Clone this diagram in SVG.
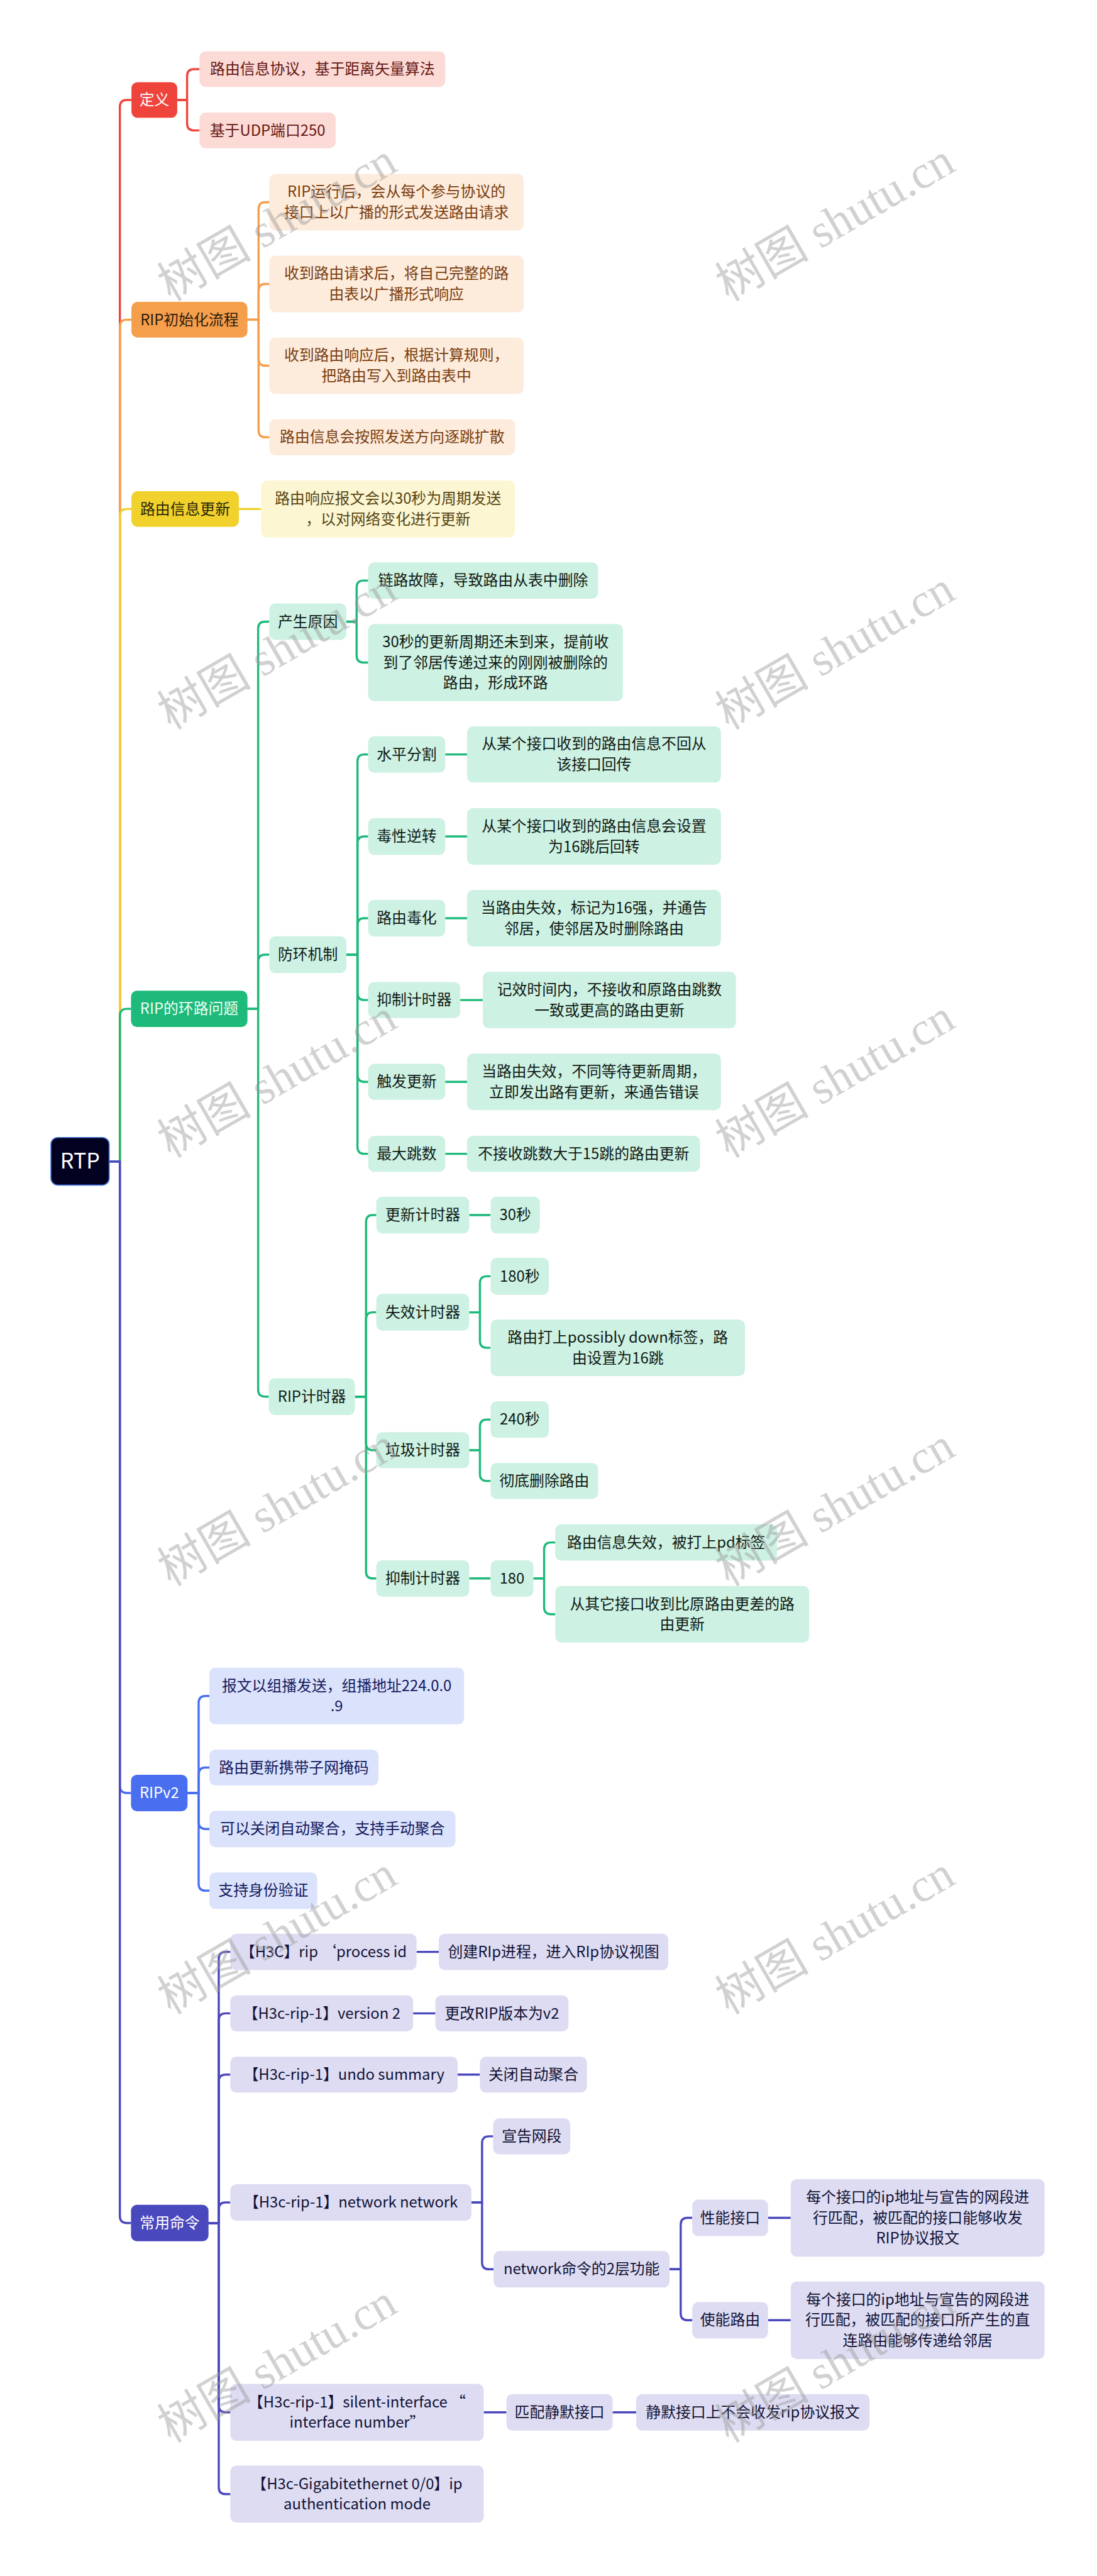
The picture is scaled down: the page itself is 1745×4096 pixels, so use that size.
<svg xmlns="http://www.w3.org/2000/svg" width="1745" height="4096" viewBox="0 0 1745 4096">
<style>
text{font-family:"Noto Sans CJK SC","Noto Sans",sans-serif;font-size:35px;text-anchor:middle}
.c{fill:none;stroke-width:5;stroke-linejoin:round}
.cr{stroke:#EF443C}.co{stroke:#F59E4C}.cy{stroke:#F1D12B}.cg{stroke:#1EBA7B}.cb{stroke:#4A6EF0}.ci{stroke:#4A48BD}
.b1r rect{fill:#EF443C}.b1r text{fill:#fff}
.b2r rect{fill:#FCDAD6}.b2r text{fill:#651812}
.b1o rect{fill:#F59E4C}.b1o text{fill:#2e1d0c}
.b2o rect{fill:#FDEBDC}.b2o text{fill:#7a3e0e}
.b1y rect{fill:#F1D12B}.b1y text{fill:#2c2608}
.b2y rect{fill:#FCF6D2}.b2y text{fill:#574512}
.b1g rect{fill:#1EBA7B}.b1g text{fill:#effff6}
.b2g rect{fill:#CDF1E2}.b2g text{fill:#101a15}
.b1b rect{fill:#4A6EF0}.b1b text{fill:#fff}
.b2b rect{fill:#DBE2FB}.b2b text{fill:#141b5e}
.b1i rect{fill:#4A48BD}.b1i text{fill:#fff}
.b2i rect{fill:#DDDCF2}.b2i text{fill:#121236}
.wm text{font-family:"Liberation Serif","Noto Sans CJK SC",serif;font-size:110px;fill:#9a9a9a;fill-opacity:0.45}
</style>
<rect width="1745" height="4096" fill="#fff"/>
<g transform="scale(0.681)">
<g id="connectors">
<path class="c cr" d="M255 2712H280V249.5Q280 233.5 296 233.5H307"/>
<path class="c cr" d="M414 233.5H437V177.5Q437 161.5 453 161.5H466"/>
<path class="c cr" d="M414 233.5H437V288.5Q437 304.5 453 304.5H466"/>
<path class="c co" d="M255 2712H280V762.5Q280 746.5 296 746.5H307"/>
<path class="c co" d="M578 746.5H604V488Q604 472 620 472H629"/>
<path class="c co" d="M578 746.5H604V679Q604 663 620 663H629"/>
<path class="c co" d="M578 746.5H604V838Q604 854 620 854H629"/>
<path class="c co" d="M578 746.5H604V1005Q604 1021 620 1021H629"/>
<path class="c cy" d="M255 2712H280V1204.5Q280 1188.5 296 1188.5H307"/>
<path class="c cy" d="M558 1188.5H610"/>
<path class="c cg" d="M255 2712H280V2371.5Q280 2355.5 296 2355.5H306"/>
<path class="c cg" d="M578 2355.5H603V1467.5Q603 1451.5 619 1451.5H629"/>
<path class="c cg" d="M578 2355.5H603V2245Q603 2229 619 2229H629"/>
<path class="c cg" d="M578 2355.5H603V3245Q603 3261 619 3261H628"/>
<path class="c cg" d="M809 1451.5H833V1371.5Q833 1355.5 849 1355.5H860"/>
<path class="c cg" d="M809 1451.5H833V1531Q833 1547 849 1547H860"/>
<path class="c cg" d="M809 2229H835V1777.5Q835 1761.5 851 1761.5H860"/>
<path class="c cg" d="M809 2229H835V1969Q835 1953 851 1953H860"/>
<path class="c cg" d="M809 2229H835V2160Q835 2144 851 2144H860"/>
<path class="c cg" d="M809 2229H835V2319Q835 2335 851 2335H860"/>
<path class="c cg" d="M809 2229H835V2510Q835 2526 851 2526H860"/>
<path class="c cg" d="M809 2229H835V2678Q835 2694 851 2694H860"/>
<path class="c cg" d="M1040 1761.5H1091M1040 1953H1091M1040 2144H1091M1075 2335H1128M1040 2526H1091M1040 2694H1091"/>
<path class="c cg" d="M829 3261H855V2853Q855 2837 871 2837H879"/>
<path class="c cg" d="M829 3261H855V3080Q855 3064 871 3064H879"/>
<path class="c cg" d="M829 3261H855V3370Q855 3386 871 3386H879"/>
<path class="c cg" d="M829 3261H855V3669.5Q855 3685.5 871 3685.5H879"/>
<path class="c cg" d="M1096 2837H1146M1096 3685.5H1146"/>
<path class="c cg" d="M1096 3064H1121V2996Q1121 2980 1137 2980H1146"/>
<path class="c cg" d="M1096 3064H1121V3131Q1121 3147 1137 3147H1146"/>
<path class="c cg" d="M1096 3386H1121V3330.5Q1121 3314.5 1137 3314.5H1146"/>
<path class="c cg" d="M1096 3386H1121V3442Q1121 3458 1137 3458H1146"/>
<path class="c cg" d="M1246 3685.5H1271V3617.5Q1271 3601.5 1287 3601.5H1297"/>
<path class="c cg" d="M1246 3685.5H1271V3753Q1271 3769 1287 3769H1297"/>
<path class="c cb" d="M255 2712H280V4170.5Q280 4186.5 296 4186.5H306"/>
<path class="c cb" d="M438 4186.5H464V3976Q464 3960 480 3960H489"/>
<path class="c cb" d="M438 4186.5H464V4143Q464 4127 480 4127H489"/>
<path class="c cb" d="M438 4186.5H464V4254.5Q464 4270.5 480 4270.5H489"/>
<path class="c cb" d="M438 4186.5H464V4398.5Q464 4414.5 480 4414.5H489"/>
<path class="c ci" d="M255 2712H280V5174.5Q280 5190.5 296 5190.5H306"/>
<path class="c ci" d="M487 5190.5H511V4573.5Q511 4557.5 527 4557.5H538"/>
<path class="c ci" d="M487 5190.5H511V4717Q511 4701 527 4701H538"/>
<path class="c ci" d="M487 5190.5H511V4860Q511 4844 527 4844H538"/>
<path class="c ci" d="M487 5190.5H511V5158.5Q511 5142.5 527 5142.5H538"/>
<path class="c ci" d="M487 5190.5H511V5616.5Q511 5632.5 527 5632.5H538"/>
<path class="c ci" d="M487 5190.5H511V5807.5Q511 5823.5 527 5823.5H538"/>
<path class="c ci" d="M973 4557.5H1025M965 4701H1017M1069 4844H1121"/>
<path class="c ci" d="M1101 5142.5H1126V5004Q1126 4988 1142 4988H1152"/>
<path class="c ci" d="M1101 5142.5H1126V5282.5Q1126 5298.5 1142 5298.5H1153"/>
<path class="c ci" d="M1564 5298.5H1590V5194.5Q1590 5178.5 1606 5178.5H1617"/>
<path class="c ci" d="M1564 5298.5H1590V5401.5Q1590 5417.5 1606 5417.5H1617"/>
<path class="c ci" d="M1794 5178.5H1847M1794 5417.5H1847M1130 5632.5H1183M1431 5632.5H1486"/>
</g>

<g id="root"><rect x="119" y="2656" width="136" height="111" rx="16" fill="#020220" stroke="#3e70d8" stroke-width="2.5"/><text x="187" y="2729" style="font-size:50px;fill:#fff">RTP</text></g>

<g id="n-def" class="b1r"><rect x="307" y="192" width="107" height="83" rx="14"/><text x="360.5" y="245.5">定义</text></g>
<g id="n-def-1" class="b2r"><rect x="466" y="120" width="574" height="83" rx="14"/><text x="753" y="173.5">路由信息协议，基于距离矢量算法</text></g>
<g id="n-def-2" class="b2r"><rect x="466" y="263" width="318" height="83" rx="14"/><text x="625" y="316.5">基于UDP端口250</text></g>

<g id="n-init" class="b1o"><rect x="307" y="705" width="271" height="83" rx="14"/><text x="442.5" y="758.5">RIP初始化流程</text></g>
<g id="n-init-1" class="b2o"><rect x="629" y="406" width="594" height="132" rx="14"/><text x="926" y="460">RIP运行后，会从每个参与协议的</text><text x="926" y="508">接口上以广播的形式发送路由请求</text></g>
<g id="n-init-2" class="b2o"><rect x="629" y="597" width="594" height="132" rx="14"/><text x="926" y="651">收到路由请求后，将自己完整的路</text><text x="926" y="699">由表以广播形式响应</text></g>
<g id="n-init-3" class="b2o"><rect x="629" y="788" width="594" height="132" rx="14"/><text x="926" y="842">收到路由响应后，根据计算规则，</text><text x="926" y="890">把路由写入到路由表中</text></g>
<g id="n-init-4" class="b2o"><rect x="629" y="979" width="574" height="84" rx="14"/><text x="916" y="1033">路由信息会按照发送方向逐跳扩散</text></g>

<g id="n-upd" class="b1y"><rect x="307" y="1147" width="251" height="83" rx="14"/><text x="432.5" y="1200.5">路由信息更新</text></g>
<g id="n-upd-1" class="b2y"><rect x="610" y="1122" width="593" height="133" rx="14"/><text x="906.5" y="1176.5">路由响应报文会以30秒为周期发送</text><text x="906.5" y="1224.5">，以对网络变化进行更新</text></g>

<g id="n-loop" class="b1g"><rect x="306" y="2313" width="272" height="85" rx="14"/><text x="442" y="2367.5">RIP的环路问题</text></g>
<g id="n-cause" class="b2g"><rect x="629" y="1409" width="180" height="85" rx="14"/><text x="719" y="1463.5">产生原因</text></g>
<g id="n-cause-1" class="b2g"><rect x="860" y="1313" width="537" height="85" rx="14"/><text x="1128.5" y="1367.5">链路故障，导致路由从表中删除</text></g>
<g id="n-cause-2" class="b2g"><rect x="860" y="1457" width="595" height="180" rx="14"/><text x="1157.5" y="1511">30秒的更新周期还未到来，提前收</text><text x="1157.5" y="1559">到了邻居传递过来的刚刚被删除的</text><text x="1157.5" y="1607">路由，形成环路</text></g>
<g id="n-prev" class="b2g"><rect x="629" y="2186" width="180" height="86" rx="14"/><text x="719" y="2241">防环机制</text></g>
<g id="n-split" class="b2g"><rect x="860" y="1719" width="180" height="85" rx="14"/><text x="950" y="1773.5">水平分割</text></g>
<g id="n-split-d" class="b2g"><rect x="1091" y="1696" width="593" height="131" rx="14"/><text x="1387.5" y="1749.5">从某个接口收到的路由信息不回从</text><text x="1387.5" y="1797.5">该接口回传</text></g>
<g id="n-poison" class="b2g"><rect x="860" y="1910" width="180" height="86" rx="14"/><text x="950" y="1965">毒性逆转</text></g>
<g id="n-poison-d" class="b2g"><rect x="1091" y="1887" width="593" height="132" rx="14"/><text x="1387.5" y="1941">从某个接口收到的路由信息会设置</text><text x="1387.5" y="1989">为16跳后回转</text></g>
<g id="n-rpoison" class="b2g"><rect x="860" y="2101" width="180" height="86" rx="14"/><text x="950" y="2156">路由毒化</text></g>
<g id="n-rpoison-d" class="b2g"><rect x="1091" y="2078" width="593" height="132" rx="14"/><text x="1387.5" y="2132">当路由失效，标记为16强，并通告</text><text x="1387.5" y="2180">邻居，使邻居及时删除路由</text></g>
<g id="n-hold" class="b2g"><rect x="860" y="2293" width="215" height="84" rx="14"/><text x="967.5" y="2347">抑制计时器</text></g>
<g id="n-hold-d" class="b2g"><rect x="1128" y="2269" width="591" height="132" rx="14"/><text x="1423.5" y="2323">记效时间内，不接收和原路由跳数</text><text x="1423.5" y="2371">一致或更高的路由更新</text></g>
<g id="n-trig" class="b2g"><rect x="860" y="2484" width="180" height="84" rx="14"/><text x="950" y="2538">触发更新</text></g>
<g id="n-trig-d" class="b2g"><rect x="1091" y="2460" width="593" height="132" rx="14"/><text x="1387.5" y="2514">当路由失效，不同等待更新周期，</text><text x="1387.5" y="2562">立即发出路有更新，来通告错误</text></g>
<g id="n-max" class="b2g"><rect x="860" y="2652" width="180" height="84" rx="14"/><text x="950" y="2706">最大跳数</text></g>
<g id="n-max-d" class="b2g"><rect x="1091" y="2652" width="544" height="84" rx="14"/><text x="1363" y="2706">不接收跳数大于15跳的路由更新</text></g>
<g id="n-timers" class="b2g"><rect x="628" y="3218" width="201" height="86" rx="14"/><text x="728.5" y="3273">RIP计时器</text></g>
<g id="n-t-upd" class="b2g"><rect x="879" y="2794" width="217" height="86" rx="14"/><text x="987.5" y="2849">更新计时器</text></g>
<g id="n-t-upd-v" class="b2g"><rect x="1146" y="2794" width="115" height="86" rx="14"/><text x="1203.5" y="2849">30秒</text></g>
<g id="n-t-inv" class="b2g"><rect x="879" y="3021" width="217" height="86" rx="14"/><text x="987.5" y="3076">失效计时器</text></g>
<g id="n-t-inv-v" class="b2g"><rect x="1146" y="2937" width="136" height="86" rx="14"/><text x="1214" y="2992">180秒</text></g>
<g id="n-t-inv-d" class="b2g"><rect x="1146" y="3081" width="594" height="132" rx="14"/><text x="1443" y="3135">路由打上possibly down标签，路</text><text x="1443" y="3183">由设置为16跳</text></g>
<g id="n-t-gc" class="b2g"><rect x="879" y="3344" width="217" height="84" rx="14"/><text x="987.5" y="3398">垃圾计时器</text></g>
<g id="n-t-gc-v" class="b2g"><rect x="1146" y="3272" width="136" height="85" rx="14"/><text x="1214" y="3326.5">240秒</text></g>
<g id="n-t-gc-d" class="b2g"><rect x="1146" y="3416" width="251" height="84" rx="14"/><text x="1271.5" y="3470">彻底删除路由</text></g>
<g id="n-t-hold" class="b2g"><rect x="879" y="3643" width="217" height="85" rx="14"/><text x="987.5" y="3697.5">抑制计时器</text></g>
<g id="n-t-hold-v" class="b2g"><rect x="1146" y="3643" width="100" height="85" rx="14"/><text x="1196" y="3697.5">180</text></g>
<g id="n-t-hold-d1" class="b2g"><rect x="1297" y="3559" width="518" height="85" rx="14"/><text x="1556" y="3613.5">路由信息失效，被打上pd标签</text></g>
<g id="n-t-hold-d2" class="b2g"><rect x="1297" y="3703" width="593" height="132" rx="14"/><text x="1593.5" y="3757">从其它接口收到比原路由更差的路</text><text x="1593.5" y="3805">由更新</text></g>

<g id="n-v2" class="b1b"><rect x="306" y="4144" width="132" height="85" rx="14"/><text x="372" y="4198.5">RIPv2</text></g>
<g id="n-v2-1" class="b2b"><rect x="489" y="3894" width="595" height="132" rx="14"/><text x="786.5" y="3948">报文以组播发送，组播地址224.0.0</text><text x="786.5" y="3996">.9</text></g>
<g id="n-v2-2" class="b2b"><rect x="489" y="4085" width="395" height="84" rx="14"/><text x="686.5" y="4139">路由更新携带子网掩码</text></g>
<g id="n-v2-3" class="b2b"><rect x="489" y="4228" width="575" height="85" rx="14"/><text x="776.5" y="4282.5">可以关闭自动聚合，支持手动聚合</text></g>
<g id="n-v2-4" class="b2b"><rect x="489" y="4372" width="252" height="85" rx="14"/><text x="615" y="4426.5">支持身份验证</text></g>

<g id="n-cmd" class="b1i"><rect x="306" y="5148" width="181" height="85" rx="14"/><text x="396.5" y="5202.5">常用命令</text></g>
<g id="n-cmd-1" class="b2i"><rect x="538" y="4515" width="435" height="85" rx="14"/><text x="755.5" y="4569.5">【H3C】rip ‘process id</text></g>
<g id="n-cmd-1d" class="b2i"><rect x="1025" y="4515" width="536" height="85" rx="14"/><text x="1293" y="4569.5">创建RIp进程，进入RIp协议视图</text></g>
<g id="n-cmd-2" class="b2i"><rect x="538" y="4659" width="427" height="84" rx="14"/><text x="751.5" y="4713">【H3c-rip-1】version 2</text></g>
<g id="n-cmd-2d" class="b2i"><rect x="1017" y="4659" width="311" height="84" rx="14"/><text x="1172.5" y="4713">更改RIP版本为v2</text></g>
<g id="n-cmd-3" class="b2i"><rect x="538" y="4802" width="531" height="84" rx="14"/><text x="803.5" y="4856">【H3c-rip-1】undo summary</text></g>
<g id="n-cmd-3d" class="b2i"><rect x="1121" y="4802" width="250" height="84" rx="14"/><text x="1246" y="4856">关闭自动聚合</text></g>
<g id="n-cmd-4" class="b2i"><rect x="538" y="5100" width="563" height="85" rx="14"/><text x="819.5" y="5154.5">【H3c-rip-1】network network</text></g>
<g id="n-cmd-4a" class="b2i"><rect x="1152" y="4946" width="180" height="84" rx="14"/><text x="1242" y="5000">宣告网段</text></g>
<g id="n-cmd-4b" class="b2i"><rect x="1153" y="5256" width="411" height="85" rx="14"/><text x="1358.5" y="5310.5">network命令的2层功能</text></g>
<g id="n-cmd-4b1" class="b2i"><rect x="1617" y="5136" width="177" height="85" rx="14"/><text x="1705.5" y="5190.5">性能接口</text></g>
<g id="n-cmd-4b1d" class="b2i"><rect x="1847" y="5088" width="593" height="181" rx="14"/><text x="2143.5" y="5142.5">每个接口的ip地址与宣告的网段进</text><text x="2143.5" y="5190.5">行匹配，被匹配的接口能够收发</text><text x="2143.5" y="5238.5">RIP协议报文</text></g>
<g id="n-cmd-4b2" class="b2i"><rect x="1617" y="5375" width="177" height="85" rx="14"/><text x="1705.5" y="5429.5">使能路由</text></g>
<g id="n-cmd-4b2d" class="b2i"><rect x="1847" y="5327" width="593" height="181" rx="14"/><text x="2143.5" y="5381.5">每个接口的ip地址与宣告的网段进</text><text x="2143.5" y="5429.5">行匹配，被匹配的接口所产生的直</text><text x="2143.5" y="5477.5">连路由能够传递给邻居</text></g>
<g id="n-cmd-5" class="b2i"><rect x="538" y="5566" width="592" height="133" rx="14"/><text x="834" y="5620.5">【H3c-rip-1】silent-interface “</text><text x="834" y="5668.5">interface number”</text></g>
<g id="n-cmd-5a" class="b2i"><rect x="1183" y="5590" width="248" height="85" rx="14"/><text x="1307" y="5644.5">匹配静默接口</text></g>
<g id="n-cmd-5b" class="b2i"><rect x="1486" y="5590" width="545" height="85" rx="14"/><text x="1758.5" y="5644.5">静默接口上不会收发rip协议报文</text></g>
<g id="n-cmd-6" class="b2i"><rect x="538" y="5757" width="592" height="133" rx="14"/><text x="834" y="5811.5">【H3c-Gigabitethernet 0/0】ip</text><text x="834" y="5859.5">authentication mode</text></g>

<g id="watermark" class="wm">
<text transform="translate(647 518) rotate(-30)" y="38">树图 shutu.cn</text>
<text transform="translate(1950 518) rotate(-30)" y="38">树图 shutu.cn</text>
<text transform="translate(647 1518) rotate(-30)" y="38">树图 shutu.cn</text>
<text transform="translate(1950 1518) rotate(-30)" y="38">树图 shutu.cn</text>
<text transform="translate(647 2518) rotate(-30)" y="38">树图 shutu.cn</text>
<text transform="translate(1950 2518) rotate(-30)" y="38">树图 shutu.cn</text>
<text transform="translate(647 3518) rotate(-30)" y="38">树图 shutu.cn</text>
<text transform="translate(1950 3518) rotate(-30)" y="38">树图 shutu.cn</text>
<text transform="translate(647 4518) rotate(-30)" y="38">树图 shutu.cn</text>
<text transform="translate(1950 4518) rotate(-30)" y="38">树图 shutu.cn</text>
<text transform="translate(647 5518) rotate(-30)" y="38">树图 shutu.cn</text>
<text transform="translate(1950 5518) rotate(-30)" y="38">树图 shutu.cn</text>
</g>
</g>
</svg>
